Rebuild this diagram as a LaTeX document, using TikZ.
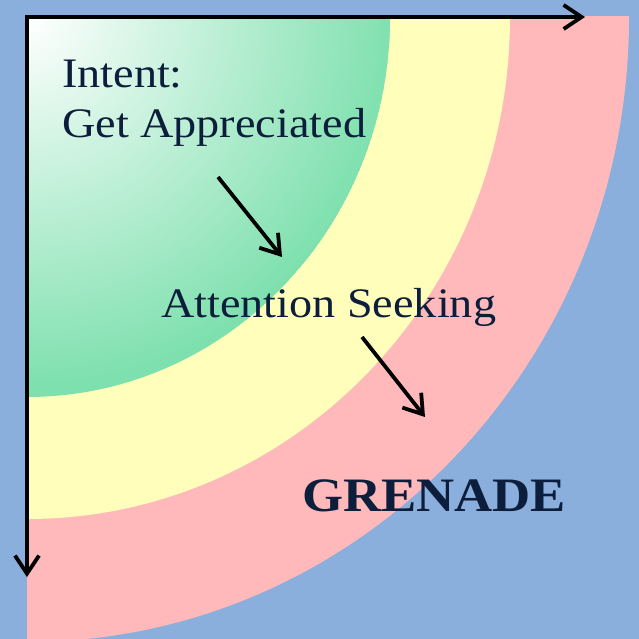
\documentclass[tikz,border=0pt]{standalone}
\usepackage{fontspec}
\setmainfont{Liberation Serif}
\newfontfamily\labelfont[FakeStretch=1.1]{Liberation Serif}
\usetikzlibrary{arrows.meta}
\definecolor{bgblue}{HTML}{8AAFDC}
\definecolor{pinkc}{HTML}{FFB9BA}
\definecolor{yellowc}{HTML}{FFFFBB}
\definecolor{greenc}{HTML}{7EE0AE}
\definecolor{navy}{RGB}{12,30,60}
\begin{document}
\begin{tikzpicture}[x=1pt,y=-1pt,
  lbl/.style={text=navy, anchor=base west, inner sep=0pt, font=\labelfont\fontsize{42}{50}\selectfont},
  boldlbl/.style={text=navy, anchor=base west, inner sep=0pt, font=\labelfont\bfseries\fontsize{48}{58}\selectfont},
  axis/.style={line width=3.8pt, line join=miter, {Straight Barb[length=18pt,width=24pt]}-{Straight Barb[length=18pt,width=24pt]}},
  pointer/.style={line width=3.8pt, -{Straight Barb[length=18pt,width=24pt]}},
]
\fill[bgblue] (0,0) rectangle (639,639);
\useasboundingbox (0,0) rectangle (639,639);
\coordinate (O) at (27,17);
\begin{scope}
  \clip (O) rectangle (639,639);
  \fill[pinkc] (O) ellipse[x radius=602, y radius=625];
  \fill[yellowc] (O) ellipse[x radius=483, y radius=502];
  \begin{scope}
    \clip (O) ellipse[x radius=363, y radius=380];
    \fill[greenc] (O) ellipse[x radius=363, y radius=380];
    \shade[inner color=white, outer color=greenc] (O) circle[radius=370];
  \end{scope}
\end{scope}
\coordinate (xe) at (585,17);
\coordinate (ye) at (27,577);
\draw[axis] (ye) -- (O) -- (xe);
\node[lbl] (intent) at (62,88) {Intent:};
\node[lbl] (get) at (62,138) {Get Appreciated};
\node[lbl] (att) at (161,317) {Attention Seeking};
\node[boldlbl] (gren) at (302,511) {GRENADE};
\coordinate (a1s) at (218,177);
\coordinate (a1e) at (282,257);
\coordinate (a2s) at (362,337);
\coordinate (a2e) at (425,417);
\draw[pointer] (a1s) -- (a1e);
\draw[pointer] (a2s) -- (a2e);
\end{tikzpicture}
\end{document}
